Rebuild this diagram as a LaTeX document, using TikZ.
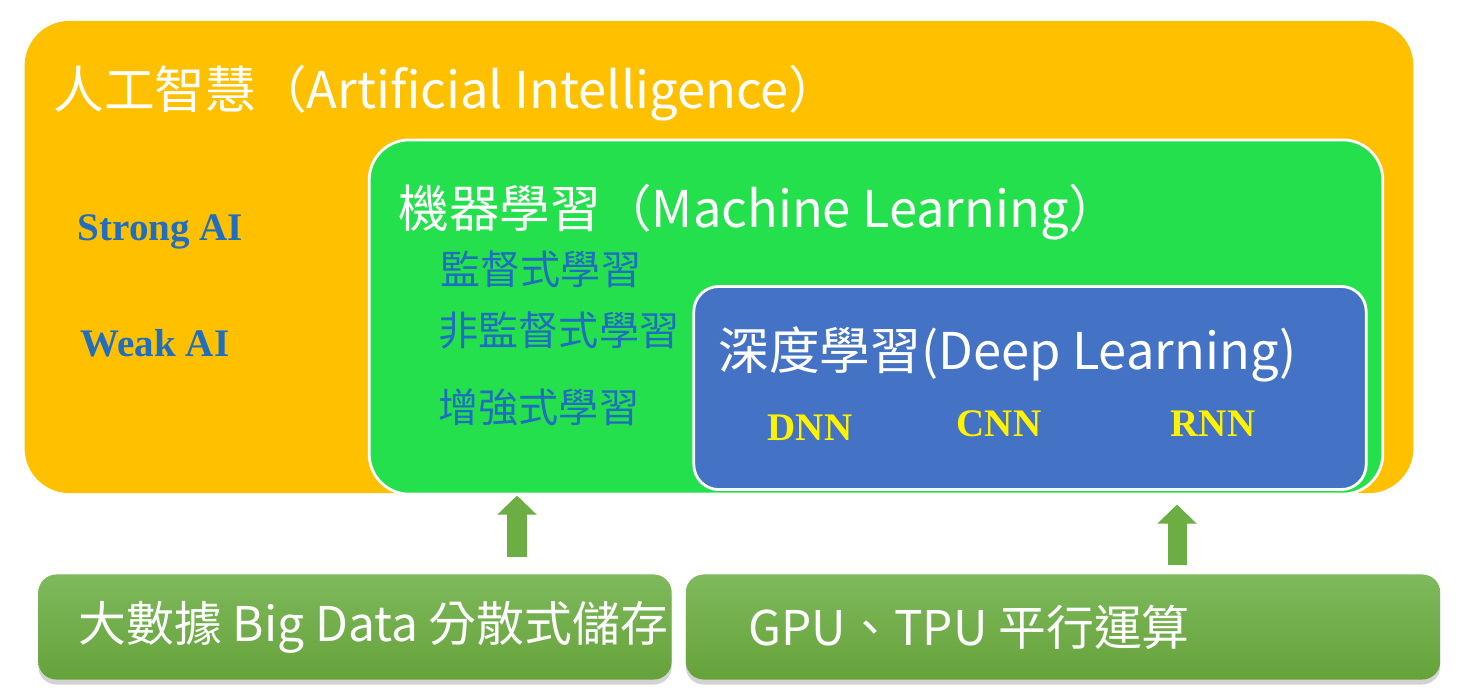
\documentclass[tikz,border=0pt]{standalone}
\usepackage{fontspec}
\usepackage{xcolor}
\usepackage{tikz}
\usetikzlibrary{arrows.meta,positioning,shadows}
\setmainfont{Liberation Serif}
\newfontfamily\cjk{Noto Sans CJK TC}
\definecolor{aiorange}{HTML}{FFC000}
\definecolor{mlgreen}{HTML}{24E04C}
\definecolor{dlblue}{HTML}{4472C4}
\definecolor{Ink}{HTML}{1F6EC0}
\definecolor{baseTop}{HTML}{7EB95C}
\definecolor{baseBot}{HTML}{66A23A}
\definecolor{arrowgreen}{HTML}{6CAE43}

\begin{document}
\begin{tikzpicture}[x=0.01cm,y=-0.01cm,
  layer/.style={rounded corners=#1,inner sep=0pt},
  title/.style={font=\cjk\fontsize{14.4}{16}\selectfont,text=white,anchor=west,inner sep=0pt},
  sub/.style={font=\cjk\fontsize{11.4}{13}\selectfont,text=Ink,anchor=west,inner sep=0pt},
  kind/.style={font=\bfseries\fontsize{11.1}{13}\selectfont,text=Ink,anchor=west,inner sep=0pt},
  net/.style={font=\bfseries\fontsize{11.1}{13}\selectfont,text=yellow,anchor=west,inner sep=0pt},
  base/.style={rounded corners=0.18cm,top color=baseTop,bottom color=baseBot,minimum height=1.05cm,
    drop shadow={opacity=0.35,shadow xshift=0cm,shadow yshift=-0.05cm}},
  basetext/.style={font=\cjk\fontsize{13.6}{15}\selectfont,text=white,anchor=west,inner sep=0pt},
  upar/.style={arrowgreen,line width=0.19cm,-{Triangle[width=0.38cm,length=0.19cm]}}
]
\useasboundingbox (0,0) rectangle (1460,699);

% nested fields
\node[layer=0.45cm,fill=aiorange,minimum width=13.88cm,minimum height=4.72cm] (ai) at (719,257) {};
\node[layer=0.4cm,fill=mlgreen,draw=white,line width=0.8pt,minimum width=10.13cm,minimum height=3.54cm] (ml) at (876,317) {};
\node[layer=0.25cm,fill=dlblue,draw=white,line width=0.8pt,minimum width=6.72cm,minimum height=2.03cm] (dl) at (1030,388) {};

\node[title] (aitxt) at (53,93) {人工智慧（Artificial Intelligence）};
\node[kind] (strong) at (77,232) {Strong AI};
\node[kind] (weak) at (80,343) {Weak AI};

\node[title] (mltxt) at (398,212) {機器學習（Machine Learning）};
\node[sub] (sup) at (440,269) {監督式學習};
\node[sub] (unsup) at (438,330) {非監督式學習};
\node[sub] (reinf) at (438,407) {增強式學習};

\node[title] (dltxt) at (718,354) {深度學習(Deep Learning)};
\node[net] (dnn) at (767,428) {DNN};
\node[net] (cnn) at (956,424) {CNN};
\node[net] (rnn) at (1170,424) {RNN};

% foundations
\node[base,minimum width=6.33cm] (bd) at (355,627) {};
\node[base,minimum width=7.54cm] (gpu) at (1063,627) {};
\node[basetext] (bdtxt) at (78,627) {大數據 Big Data 分散式儲存};
\node[basetext] (gputxt) at (748,627) {GPU、TPU 平行運算};

\coordinate (la) at (517,557);
\coordinate (ra) at (1177,565);
\draw[upar] (la) -- (la |- ml.south);
\draw[upar] (ra) -- ([yshift=-0.09cm]ra |- ml.south);
\end{tikzpicture}
\end{document}
